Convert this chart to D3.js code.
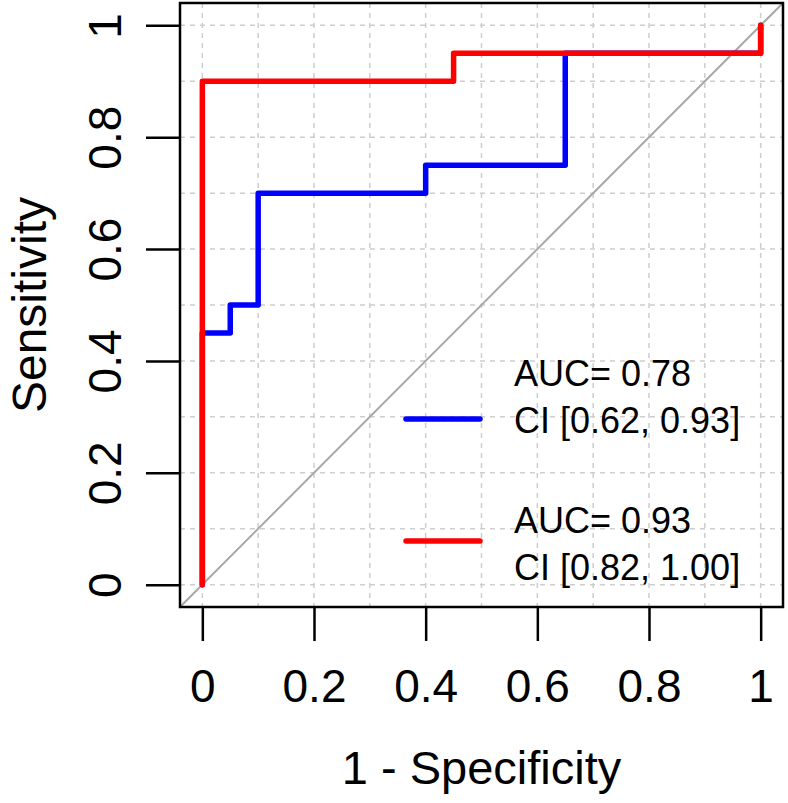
<!DOCTYPE html>
<html>
<head>
<meta charset="utf-8">
<script src="https://cdn.jsdelivr.net/npm/d3@7"></script>
<style>
  html, body { margin: 0; padding: 0; background: #ffffff; }
  svg { display: block; font-family: "Liberation Sans", Arial, sans-serif; }
</style>
</head>
<body>
<svg id="chart" width="788" height="803"></svg>
<script>
// ---- data ----
const blueFpr = [0, 0, 0.05, 0.05, 0.10, 0.10, 0.40, 0.40, 0.65, 0.65, 1, 1];
const blueTpr = [0, 0.45, 0.45, 0.50, 0.50, 0.70, 0.70, 0.75, 0.75, 0.95, 0.95, 1];
const redFpr = [0, 0, 0.45, 0.45, 1, 1];
const redTpr = [0, 0.90, 0.90, 0.95, 0.95, 1];
const tickValues = [0, 0.2, 0.4, 0.6, 0.8, 1];
const tickLabels = ["0", "0.2", "0.4", "0.6", "0.8", "1"];
const gridValues = [0, 0.1, 0.2, 0.3, 0.4, 0.5, 0.6, 0.7, 0.8, 0.9, 1];
const legendLines = [
  ["AUC= 0.78", "CI [0.62, 0.93]"],
  ["AUC= 0.93", "CI [0.82, 1.00]"]
];
const seriesColors = ["#0000ff", "#ff0000"];
const xTitle = "1 - Specificity";
const yTitle = "Sensitivity";

// ---- layout ----
const svg = d3.select("#chart");
const box = { left: 180, right: 783, top: 3, bottom: 607 };
const x = d3.scaleLinear().domain([-0.04, 1.04]).range([box.left, box.right]);
const y = d3.scaleLinear().domain([-0.04, 1.04]).range([box.bottom, box.top]);

// grid
const grid = svg.append("g").attr("stroke", "#cdcdcd").attr("stroke-width", 1.5)
  .attr("stroke-dasharray", "5,5");
grid.selectAll("line.v").data(gridValues).join("line").attr("class", "v")
  .attr("x1", d => x(d)).attr("x2", d => x(d))
  .attr("y1", box.top).attr("y2", box.bottom);
grid.selectAll("line.h").data(gridValues).join("line").attr("class", "h")
  .attr("y1", d => y(d)).attr("y2", d => y(d))
  .attr("x1", box.left).attr("x2", box.right);

// diagonal reference
svg.append("line")
  .attr("x1", x(-0.04)).attr("y1", y(-0.04))
  .attr("x2", x(1.04)).attr("y2", y(1.04))
  .attr("stroke", "#a8a8a8").attr("stroke-width", 2);

// curves
const line = d3.line().x(d => x(d[0])).y(d => y(d[1]));
const series = [
  d3.zip(blueFpr, blueTpr),
  d3.zip(redFpr, redTpr)
];
series.forEach((pts, i) => {
  svg.append("path").datum(pts).attr("d", line)
    .attr("fill", "none").attr("stroke", seriesColors[i])
    .attr("stroke-width", 5.5).attr("stroke-linejoin", "round")
    .attr("stroke-linecap", "round");
});

// box
svg.append("rect")
  .attr("x", box.left).attr("y", box.top)
  .attr("width", box.right - box.left).attr("height", box.bottom - box.top)
  .attr("fill", "none").attr("stroke", "#000").attr("stroke-width", 2.5);

// x axis
const xAxis = d3.axisBottom(x).tickValues(tickValues)
  .tickFormat((d, i) => tickLabels[i]).tickSize(34).tickSizeOuter(0).tickPadding(0);
const gx = svg.append("g").attr("transform", `translate(0,${box.bottom})`).call(xAxis);
gx.select(".domain").remove();
gx.selectAll(".tick line").attr("stroke", "#000").attr("stroke-width", 2.5);
gx.selectAll(".tick text").attr("fill", "#000").attr("font-size", 46)
  .attr("font-family", "Liberation Sans, Arial, sans-serif")
  .attr("dy", null).attr("y", 95);

// y axis
const yAxis = d3.axisLeft(y).tickValues(tickValues)
  .tickFormat((d, i) => tickLabels[i]).tickSize(34).tickSizeOuter(0).tickPadding(0);
const gy = svg.append("g").attr("transform", `translate(${box.left},0)`).call(yAxis);
gy.select(".domain").remove();
gy.selectAll(".tick line").attr("stroke", "#000").attr("stroke-width", 2.5);
gy.selectAll(".tick text").attr("fill", "#000").attr("font-size", 46)
  .attr("font-family", "Liberation Sans, Arial, sans-serif")
  .attr("x", null).attr("dy", null).attr("text-anchor", "middle")
  .attr("transform", "translate(-59,0) rotate(-90)");

// axis titles
svg.append("text").attr("x", (box.left + box.right) / 2).attr("y", 784)
  .attr("text-anchor", "middle").attr("font-size", 47).attr("fill", "#000").text(xTitle);
svg.append("text")
  .attr("transform", `translate(46,${(box.top + box.bottom) / 2}) rotate(-90)`)
  .attr("text-anchor", "middle").attr("font-size", 48).attr("fill", "#000").text(yTitle);

// legend
const legendY = [419, 541];
const textBase = [[386, 433], [533, 580]];
legendLines.forEach((lines, i) => {
  svg.append("line").attr("x1", 406).attr("x2", 480)
    .attr("y1", legendY[i]).attr("y2", legendY[i])
    .attr("stroke", seriesColors[i]).attr("stroke-width", 5.5)
    .attr("stroke-linecap", "round");
  lines.forEach((t, j) => {
    svg.append("text").attr("x", 514).attr("y", textBase[i][j])
      .attr("font-size", 36).attr("fill", "#000").text(t);
  });
});
</script>
</body>
</html>
